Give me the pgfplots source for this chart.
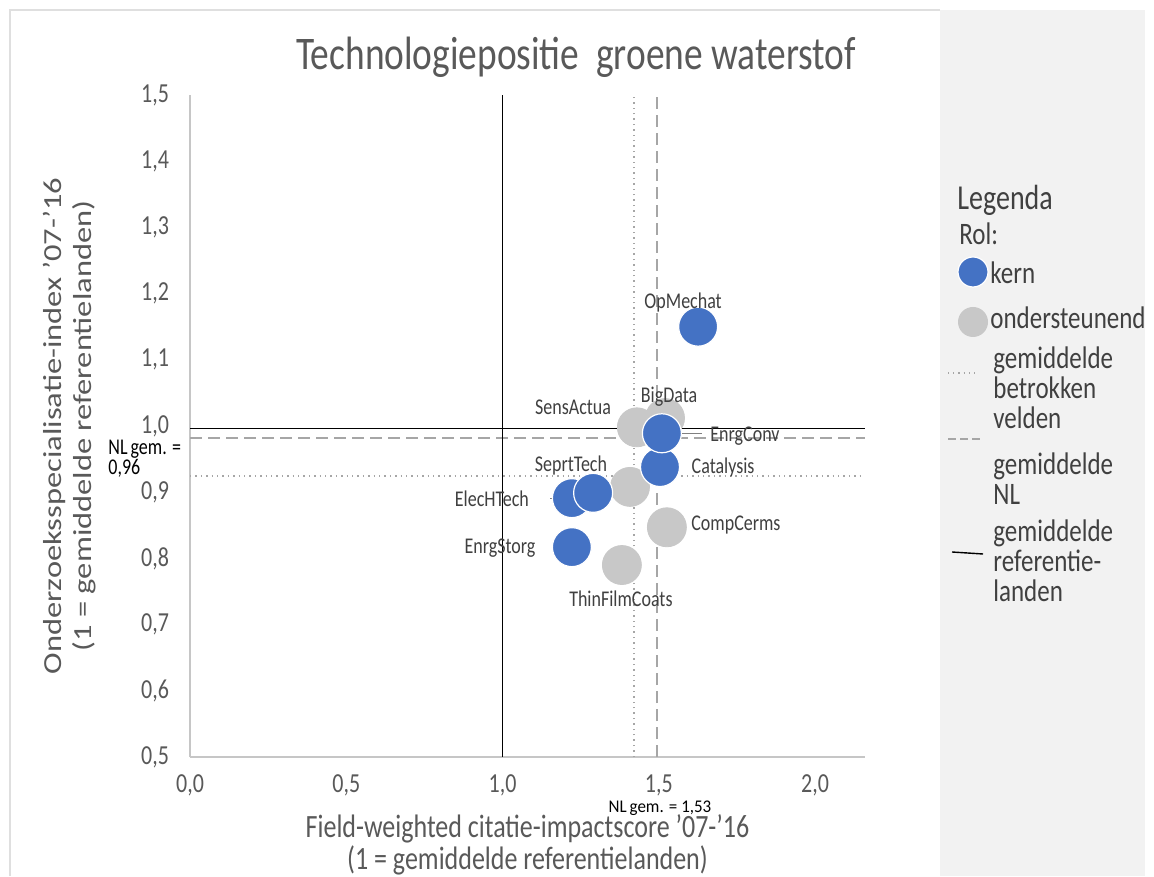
\documentclass[border=0pt]{standalone}
\usepackage{fontspec}
\setmainfont{Carlito}
\usepackage{pgfplots}
\usepackage{pgfplotstable}
\pgfplotsset{compat=1.18}
\definecolor{kern}{RGB}{68,114,196}
\definecolor{steun}{RGB}{200,200,200}
\definecolor{txtgray}{RGB}{89,89,89}
\definecolor{lblgray}{RGB}{64,64,64}
\definecolor{refgray}{RGB}{166,166,166}
\definecolor{panel}{RGB}{242,242,242}

% bubbles, role "ondersteunend"
\pgfplotstableread{
x     y
1.520 1.012
1.430 0.998
1.408 0.908
1.526 0.847
1.382 0.790
}\steundata

% bubbles, role "kern"
\pgfplotstableread{
x     y
1.222 0.891
1.290 0.899
1.504 0.938
1.510 0.989
1.222 0.817
1.626 1.150
}\kerndata

% label positions
\pgfplotstableread{
x     y     naam
1.578 1.187 OpMechat
1.533 1.045 BigData
1.226 1.029 SensActua
1.776 0.985 EnrgConv
1.706 0.938 Catalysis
1.219 0.941 SeprtTech
0.966 0.890 ElecHTech
1.747 0.850 CompCerms
0.992 0.816 EnrgStorg
1.379 0.739 ThinFilmCoats
}\labels

\begin{document}
\begin{tikzpicture}
\fill[white] (0,0) rectangle (577pt,438pt);
\draw[gray!25, line width=0.8pt] (5pt,0) -- (5pt,433pt) -- (470pt,433pt);
\fill[panel] (470pt,0) rectangle (572.5pt,433pt);

\begin{axis}[
  at={(95pt,59.5pt)}, anchor=south west,
  scale only axis, width=337.5pt, height=331pt,
  xmin=0, xmax=2.16, ymin=0.5, ymax=1.5,
  axis lines*=left,
  axis line style={draw=gray!45, line width=0.7pt},
  xtick={0,0.5,1,1.5,2},
  ytick={0.5,0.6,0.7,0.8,0.9,1.0,1.1,1.2,1.3,1.4,1.5},
  major tick length=0pt,
  tick label style={font=\fontsize{11}{13}\selectfont, text=txtgray, yscale=1.25},
  yticklabel style={xshift=-7pt},
  xticklabel style={inner sep=1pt, yshift=-6pt},
  /pgf/number format/.cd, fixed, fixed zerofill, precision=1, use comma,
    assume math mode=true,
  /pgfplots/.cd,
  xlabel={Field-weighted citatie-impactscore '07-'16\\(1 = gemiddelde referentielanden)},
  ylabel={Onderzoeksspecialisatie-index '07-'16\\(1 = gemiddelde referentielanden)},
  xlabel style={font=\fontsize{13}{11.6}\selectfont, text=txtgray, align=center,
    inner sep=0pt, yscale=1.25, yshift=-6.2pt},
  ylabel style={font=\fontsize{13}{15}\selectfont, text=txtgray, align=center,
    yshift=15.5pt, xscale=1.25},
  clip=false,
]
\addplot[only marks, mark=*, mark size=9.75pt,
  mark options={fill=steun, draw=steun}] table[x=x, y=y] {\steundata};
\addplot[only marks, mark=*, mark size=9.75pt,
  mark options={fill=kern, draw=white, line width=0.6pt}] table[x=x, y=y] {\kerndata};

% reference lines
\addplot[refgray, dotted, line width=0.7pt] coordinates {(1.421,0.5) (1.421,1.5)};
\addplot[refgray, dotted, line width=0.7pt] coordinates {(0,0.9245) (2.16,0.9245)};
\addplot[refgray, dash pattern=on 6pt off 3pt, line width=0.7pt] coordinates {(1.494,0.5) (1.494,1.5)};
\addplot[refgray, dash pattern=on 6pt off 3pt, line width=0.7pt] coordinates {(0,0.982) (2.16,0.982)};
\addplot[black, line width=0.7pt] coordinates {(1,0.5) (1,1.5)};
\addplot[black, line width=0.7pt] coordinates {(0,0.996) (2.16,0.996)};

% leader lines
\addplot[gray, line width=0.4pt] coordinates {(1.568,0.989) (1.638,0.989)};
\addplot[gray, line width=0.4pt] coordinates {(1.530,0.847) (1.578,0.847)};
\addplot[gray, line width=0.4pt] coordinates {(1.158,0.817) (1.232,0.817)};
\addplot[gray, line width=0.4pt] coordinates {(1.152,0.891) (1.210,0.891)};
\addplot[gray, line width=0.4pt] coordinates {(1.382,0.793) (1.382,0.772)};

% data labels
\addplot[only marks, mark=none, nodes near coords, point meta=explicit symbolic,
  every node near coord/.style={anchor=center, inner sep=0pt, yscale=1.25,
    font=\fontsize{9}{11}\selectfont, text=lblgray}]
  table[x=x, y=y, meta=naam] {\labels};
\end{axis}

% annotations
\node[font=\fontsize{18.7}{21}\selectfont, text=txtgray, yscale=1.25] at (288pt,409.5pt)
  {Technologiepositie\ \ groene waterstof};
\node[font=\fontsize{9}{8}\selectfont, align=left, anchor=west, inner sep=0pt, yscale=1.25]
  at (54pt,208.5pt) {NL\,gem. =\\0,96};
\node[font=\fontsize{8.5}{10}\selectfont, inner sep=0pt, yscale=1.05] at (330pt,34pt) {NL\,gem. = 1,53};

% legend panel
\begin{scope}[every node/.style={inner sep=0pt, anchor=base west, yscale=1.25,
    font=\fontsize{12.5}{14}\selectfont, text=lblgray}]
\node[font=\fontsize{14}{16}\selectfont] at (478.5pt,333pt) {Legenda};
\node[font=\fontsize{12.5}{15}\selectfont] at (479.5pt,315.5pt) {Rol:};
\fill[kern, draw=white, line width=0.6pt] (486.5pt,302pt) circle (7.5pt);
\node at (495pt,296pt) {kern};
\fill[steun] (486.5pt,277pt) circle (7.5pt);
\node at (495pt,273.5pt) {ondersteunend};
\draw[refgray, dotted, line width=0.6pt] (474pt,251.5pt) -- (489pt,251.5pt);
\node at (496.5pt,253.5pt) {gemiddelde};
\node at (496.5pt,238.5pt) {betrokken};
\node at (496.5pt,223.5pt) {velden};
\draw[refgray, dash pattern=on 4pt off 2pt, line width=0.6pt] (474pt,218.5pt) -- (490pt,218.5pt);
\node at (496.5pt,200.5pt) {gemiddelde};
\node at (496.5pt,185.5pt) {NL};
\draw[black, line width=0.7pt] (476pt,162pt) -- (491.5pt,161pt);
\node at (496.5pt,167pt) {gemiddelde};
\node at (496.5pt,152pt) {referentie-};
\node at (496.5pt,137pt) {landen};
\end{scope}
\end{tikzpicture}
\end{document}
